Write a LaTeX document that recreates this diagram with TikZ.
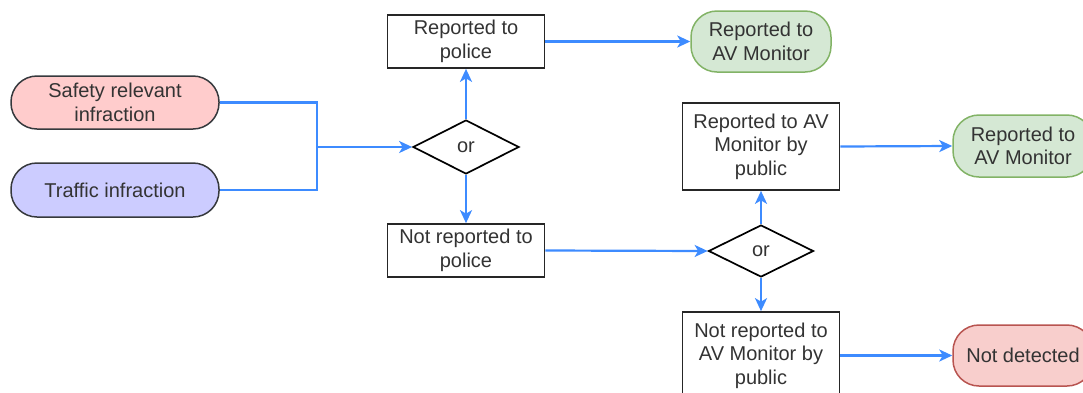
\documentclass[tikz,border=0pt]{standalone}
\usepackage{fontspec}
\setmainfont{Liberation Sans}
\usetikzlibrary{shapes.geometric,arrows.meta}
\definecolor{flow}{HTML}{3D8BFF}
\definecolor{pinkfill}{HTML}{FFCCCC}
\definecolor{lilacfill}{HTML}{CCCCFF}
\definecolor{darkline}{HTML}{36393D}
\definecolor{greenfill}{HTML}{D5E8D4}
\definecolor{greenline}{HTML}{82B366}
\definecolor{redfill}{HTML}{F8CECC}
\definecolor{redline}{HTML}{B85450}
\definecolor{txt}{HTML}{333333}
\tikzset{
  base/.style={inner sep=0pt, align=center, text=txt,
    font=\fontsize{20pt}{23.5pt}\selectfont},
  stepbox/.style={base, draw=black!85, line width=1.7pt, fill=white,
    minimum width=157pt},
  terminal/.style={base, rounded corners=26pt, line width=1.5pt,
    minimum width=140pt, minimum height=61pt},
  decision/.style={base, diamond, draw=black, line width=1.7pt, fill=white,
    minimum width=106pt, minimum height=54pt},
  link/.style={draw=flow, line width=2.2pt},
  flowarrow/.style={link, -{Stealth[length=13pt,width=12pt,inset=3.5pt]}}
}
\begin{document}
\begin{tikzpicture}[x=1pt,y=-1pt]
\useasboundingbox (0,0) rectangle (1083,392);
\clip (0,0) rectangle (1083,392);

% starting conditions
\node[terminal, fill=pinkfill, draw=darkline, minimum width=208pt, minimum height=53pt]
  (safety) at (115,102.5) {Safety relevant\\infraction};
\node[terminal, fill=lilacfill, draw=darkline, minimum width=208pt, minimum height=54pt]
  (traffic) at (115,190) {Traffic infraction};
\coordinate (merge) at (317,147);

% police branch
\node[decision] (or1) at (466,147) {or};
\node[stepbox, minimum height=53pt] (rp) at (466,41.5) {Reported to\\police};
\node[stepbox, minimum height=53pt] (nrp) at (466,250.5) {Not reported to\\police};
\node[terminal, fill=greenfill, draw=greenline] (avm1) at (761,41.5) {Reported to\\AV Monitor};

% public branch
\node[decision, minimum width=105pt, minimum height=52pt] (or2) at (761,251) {or};
\node[stepbox, minimum height=87pt] (rpub) at (761,146.5) {Reported to AV\\Monitor by\\public};
\node[stepbox, minimum height=87pt] (nrpub) at (761,355.5) {Not reported to\\AV Monitor by\\public};
\node[terminal, fill=greenfill, draw=greenline, minimum height=62pt] (avm2) at (1023,146) {Reported to\\AV Monitor};
\node[terminal, fill=redfill, draw=redline] (nd) at (1023,355.5) {Not detected};

% connectors
\draw[link] (safety.east) -| (merge);
\draw[link] (traffic.east) -| (merge);
\draw[flowarrow] (merge) -- (or1.west);
\draw[flowarrow] (or1.north) -- (rp.south);
\draw[flowarrow] (or1.south) -- (nrp.north);
\draw[flowarrow] (rp.east) -- (avm1.west);
\draw[flowarrow] (nrp.east) -- (or2.west);
\draw[flowarrow] (or2.north) -- (rpub.south);
\draw[flowarrow] (or2.south) -- (nrpub.north);
\draw[flowarrow] (rpub.east) -- (avm2.west);
\draw[flowarrow] (nrpub.east) -- (nd.west);
\end{tikzpicture}
\end{document}
